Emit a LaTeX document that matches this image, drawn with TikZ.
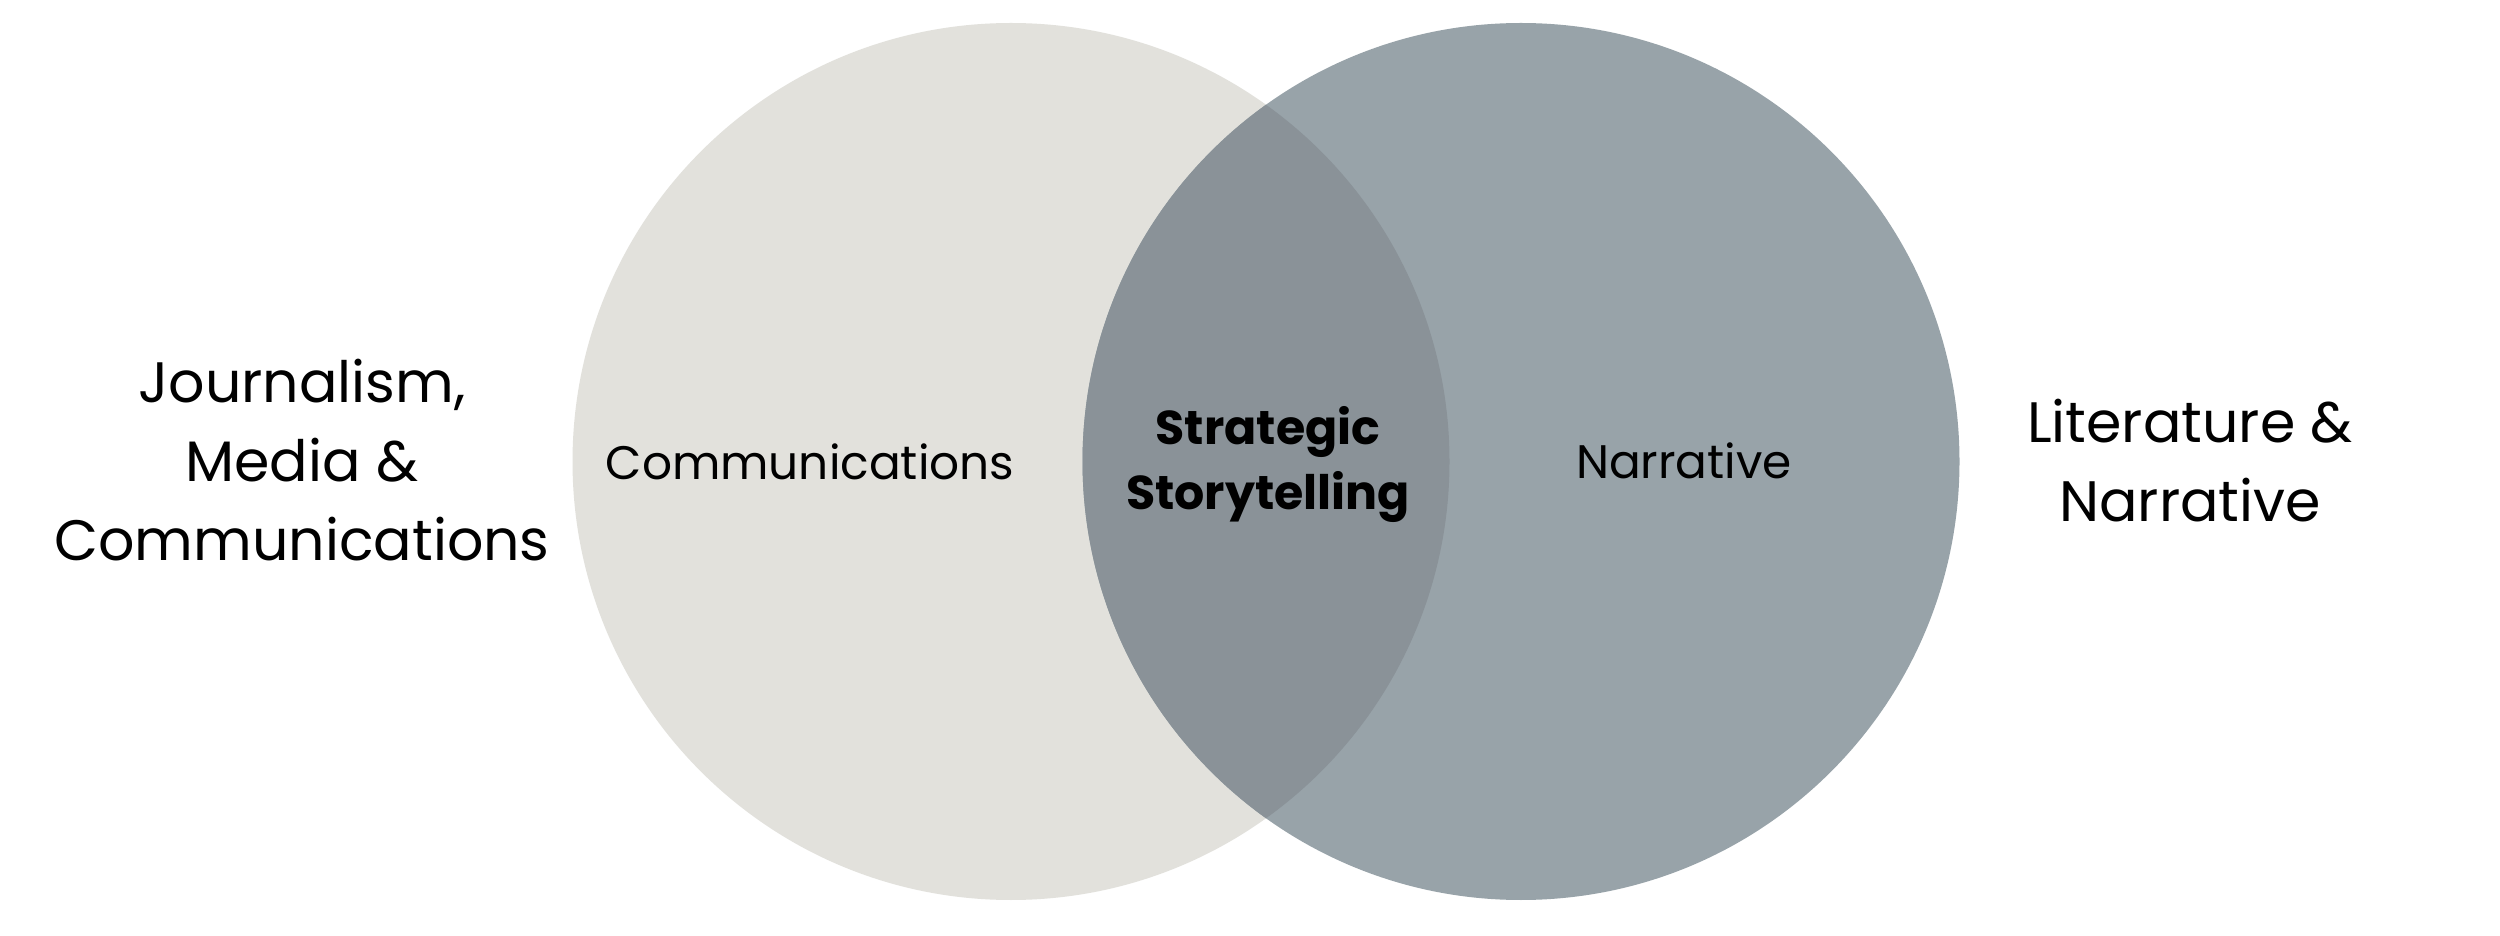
\documentclass[tikz,border=0pt]{standalone}
\usepackage{fontspec}
\setmainfont{Poppins}
\definecolor{leftc}{HTML}{E2E1DC}
\definecolor{rightc}{HTML}{98A3A9}
\definecolor{midc}{HTML}{8A9298}
\begin{document}
\begin{tikzpicture}[x=1pt,y=1pt,
  outer/.style={align=center,font=\fontsize{57}{79}\selectfont,inner sep=0pt},
  inner/.style={align=center,font=\fontsize{47}{65}\selectfont,inner sep=0pt},
  mid/.style={align=center,font=\fontsize{47.5}{65}\selectfont\bfseries,inner sep=0pt}]
\useasboundingbox (0,0) rectangle (2500,935);
\fill[white] (0,0) rectangle (2500,935);
\def\R{438.5}
\coordinate (L) at (1011,473.5);
\coordinate (Rc) at (1521,473.5);
\fill[leftc] (L) circle (\R);
\fill[rightc] (Rc) circle (\R);
\begin{scope}
  \clip (L) circle (\R);
  \fill[midc] (Rc) circle (\R);
\end{scope}
\node[outer] (jmc) at (302,474.5) {Journalism,\\Media \&\\Communications};
\node[inner] (comm) at (810,473) {Communications};
\node[mid] (ss) at (1268,470) {Strategic\\Storytelling};
\node[inner] (narr) at (1684,474) {Narrative};
\node[outer] (lit) at (2190,474.5) {Literature \&\\Narrative};
\end{tikzpicture}
\end{document}
